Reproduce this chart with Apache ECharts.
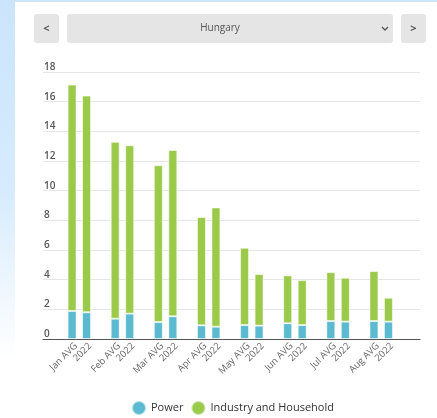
<!DOCTYPE html>
<html>
<head>
<meta charset="utf-8">
<script src="https://cdn.jsdelivr.net/npm/echarts@6/dist/echarts.min.js"></script>
<style>
  html, body { margin: 0; padding: 0; background: #fff; }
  #wrap { position: relative; width: 437px; height: 418px; overflow: hidden; }
  #leftStrip { position: absolute; left: 0; top: 0; width: 15px; height: 418px;
    background: linear-gradient(to bottom, #cbe5fc 0%, #d6ebfd 45%, #ffffff 86%); }
  #topStrip { position: absolute; left: 0; top: 0; width: 437px; height: 2px; background: #cbe5fc; }
  #chart { position: absolute; left: 0; top: 0; width: 437px; height: 418px; }
</style>
</head>
<body>
<div id="wrap">
  <div id="leftStrip"></div>
  <div id="topStrip"></div>
  <div id="chart"></div>
</div>
<script>
// ---- data ----
const months = ['Jan', 'Feb', 'Mar', 'Apr', 'May', 'Jun', 'Jul', 'Aug'];
const avgLabel = 'AVG';
const yearLabel = '2022';
const powerAvg = [1.89, 1.37, 1.14, 0.92, 0.94, 1.06, 1.21, 1.21];
const industryAvg = [15.26, 11.92, 10.58, 7.30, 5.21, 3.23, 3.30, 3.37];
const power2022 = [1.80, 1.71, 1.53, 0.83, 0.90, 0.94, 1.17, 1.17];
const industry2022 = [14.61, 11.35, 11.22, 8.04, 3.48, 3.03, 2.96, 1.61];
const yTicks = [0, 2, 4, 6, 8, 10, 12, 14, 16, 18];
const selectedCountry = 'Hungary';
const seriesNames = ['Power', 'Industry and Household'];

const BLUE = '#5bbad0';
const GREEN = '#9bca4a';
const FONT = '"Open Sans", "Noto Sans", sans-serif';

const chart = echarts.init(document.getElementById('chart'), null, { renderer: 'canvas' });

const barCommon = {
  type: 'bar',
  xAxisIndex: 1,
  yAxisIndex: 1,
  barWidth: 9,
  barGap: '61%',
  itemStyle: { borderColor: 'rgba(255,255,255,0.55)', borderWidth: 1 }
};

const option = {
  backgroundColor: 'transparent',
  animation: false,
  textStyle: { fontFamily: FONT },
  grid: [
    { left: 43, right: 17, top: 72, bottom: 79 },
    { left: 65, right: 27, top: 72, bottom: 79 }
  ],
  xAxis: [
    { gridIndex: 0, type: 'value', min: 0, max: 1,
      axisLine: { show: true, lineStyle: { color: '#555', width: 1.2 } },
      axisTick: { show: false }, axisLabel: { show: false }, splitLine: { show: false } },
    { gridIndex: 1, type: 'category', data: months,
      axisLine: { show: false }, axisTick: { show: false },
      axisLabel: {
        rotate: 45, margin: 2, interval: 0,
        color: '#666', fontSize: 9.5, fontFamily: FONT,
        formatter: function (v) { return '{a|' + v + ' ' + avgLabel + '}\n{b|' + yearLabel + '}'; },
        rich: {
          a: { fontSize: 9.5, color: '#666', lineHeight: 10, padding: [0, 10, 0, 0], fontFamily: FONT },
          b: { fontSize: 9.5, color: '#666', lineHeight: 10, fontFamily: FONT }
        }
      } }
  ],
  yAxis: [
    { gridIndex: 0, type: 'value', min: yTicks[0], max: yTicks[yTicks.length - 1], interval: 2,
      axisLine: { show: false }, axisTick: { show: false },
      splitLine: { show: true, lineStyle: { color: '#e6e6e6', width: 1 } },
      axisLabel: { inside: true, margin: 1, verticalAlign: 'bottom', padding: [0, 0, 0, 0],
        color: '#555', fontSize: 10, fontWeight: 600, fontFamily: FONT } },
    { gridIndex: 1, type: 'value', min: yTicks[0], max: yTicks[yTicks.length - 1], interval: 2,
      show: false, splitLine: { show: false } }
  ],
  legend: {
    data: seriesNames.map(n => ({ name: n, icon: 'circle' })),
    left: 126, top: 395,
    itemWidth: 14, itemHeight: 14, itemGap: 7,
    textStyle: { color: '#333', fontSize: 11, fontFamily: FONT }
  },
  series: [
    Object.assign({}, barCommon, { name: seriesNames[0], stack: 'avg', data: powerAvg, itemStyle: Object.assign({}, barCommon.itemStyle, { color: BLUE }) }),
    Object.assign({}, barCommon, { name: seriesNames[1], stack: 'avg', data: industryAvg, itemStyle: Object.assign({}, barCommon.itemStyle, { color: GREEN }) }),
    Object.assign({}, barCommon, { name: seriesNames[0], stack: 'y2022', data: power2022, itemStyle: Object.assign({}, barCommon.itemStyle, { color: BLUE }) }),
    Object.assign({}, barCommon, { name: seriesNames[1], stack: 'y2022', data: industry2022, itemStyle: Object.assign({}, barCommon.itemStyle, { color: GREEN }) }),
    Object.assign({}, barCommon, { name: '_spacer', stack: 'spacer', data: [], silent: true })
  ],
  graphic: [
    { type: 'rect', shape: { x: 34, y: 14, width: 25, height: 29, r: 3 }, style: { fill: '#e5e5e5' } },
    { type: 'text', x: 46.5, y: 28.5, style: { text: '<', fill: '#555', font: 'bold 11px ' + FONT, align: 'center', verticalAlign: 'middle' } },
    { type: 'rect', shape: { x: 67, y: 14, width: 326, height: 29, r: 3 }, style: { fill: '#e5e5e5' } },
    { type: 'text', x: 220, y: 28.5, style: { text: selectedCountry, fill: '#555', font: '10px ' + FONT, align: 'center', verticalAlign: 'middle' } },
    { type: 'polyline', shape: { points: [[382, 27], [385, 30], [388, 27]] }, style: { stroke: '#555', lineWidth: 1.3, fill: null } },
    { type: 'rect', shape: { x: 401, y: 14, width: 25, height: 29, r: 3 }, style: { fill: '#e5e5e5' } },
    { type: 'text', x: 413.5, y: 28.5, style: { text: '>', fill: '#555', font: 'bold 11px ' + FONT, align: 'center', verticalAlign: 'middle' } }
  ]
};

chart.setOption(option);
</script>
</body>
</html>
